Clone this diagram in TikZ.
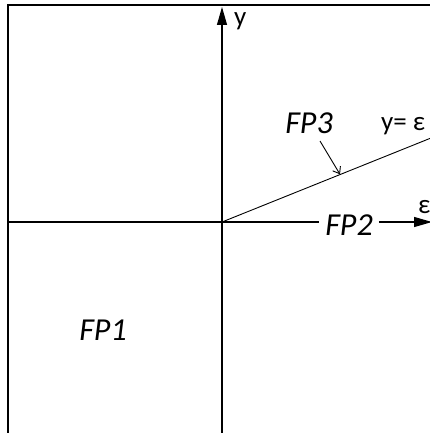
\documentclass[tikz,border=0pt]{standalone}
\usepackage{fontspec}
\setmainfont{Carlito}
\usetikzlibrary{arrows.meta,positioning}
\tikzset{
  frameline/.style={draw=black,line width=1.8pt},
  axisline/.style={draw=black,line width=1.1pt},
  axisarrow/.style={axisline,-{Triangle[length=18pt,width=10pt]}},
  rayline/.style={draw=black,line width=0.9pt},
  pointer/.style={-{Straight Barb[length=6pt,width=9pt]},draw=black,line width=0.9pt},
  regionlabel/.style={font=\fontsize{32}{36}\selectfont\itshape,inner sep=0pt},
  axislabel/.style={font=\fontsize{27}{30}\selectfont,inner sep=0pt}
}
\begin{document}
\begin{tikzpicture}[x=1pt,y=-1pt]
  \useasboundingbox (0,0) rectangle (430,433);
  % frame
  \draw[frameline] (8,434) -- (8,5) -- (431,5);
  % axes
  \coordinate (O) at (222,222);
  \coordinate (ybot) at (222,434);
  \coordinate (ytop) at (222,7);
  \coordinate (xleft) at (7,222);
  \coordinate (xtip) at (432,222);
  \draw[axisarrow] (ybot) -- (ytop);
  \node[axislabel,anchor=base west] (ylab) at (234,26) {y};
  \node[regionlabel,anchor=base,inner xsep=6pt] (fp2) at (349,235) {FP2};
  \draw[axisline] (xleft) -- (xleft -| fp2.west);
  \draw[axisarrow] (xtip -| fp2.east) -- (xtip);
  \node[axislabel,anchor=base west] (eps) at (418,213) {ε};
  % ray y = eps
  \coordinate (rayend) at (431,138);
  \draw[rayline] (O) -- (rayend);
  \node[axislabel,anchor=base west] (raylab) at (381,130) {y= ε};
  % region labels
  \node[regionlabel,anchor=base] (fp3) at (309,133) {FP3};
  \coordinate (ptail) at (320,141);
  \coordinate (hit) at (340,174.3);
  \draw[pointer] (ptail) -- (hit);
  \node[regionlabel,anchor=base] (fp1) at (103,340) {FP1};
\end{tikzpicture}
\end{document}
